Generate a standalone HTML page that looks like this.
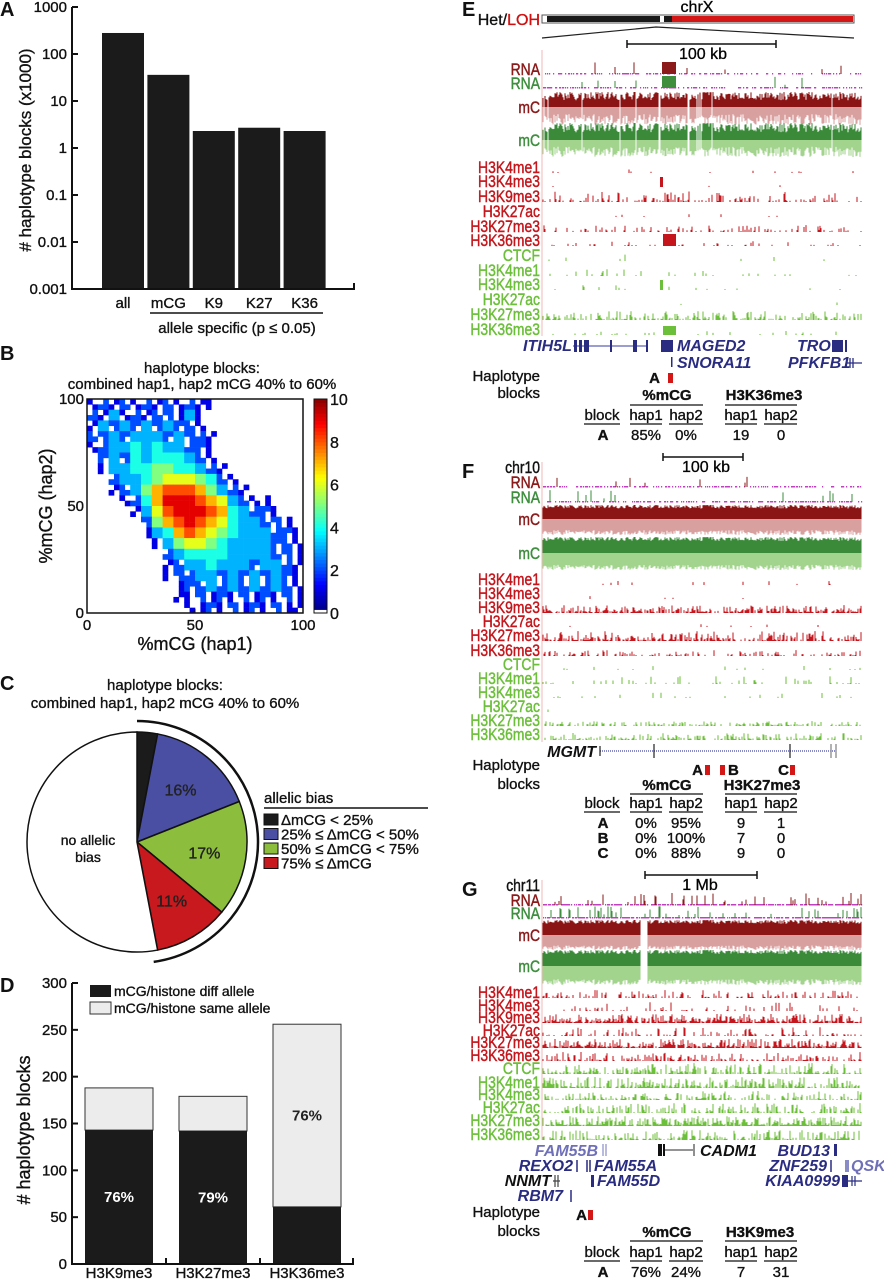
<!DOCTYPE html>
<html><head><meta charset="utf-8">
<style>
html,body{margin:0;padding:0;background:#fff;}
svg{display:block;font-family:"Liberation Sans",Arial,sans-serif;}
svg text{stroke-width:0.35px;}
.lbl{font-size:15px;fill:#111;stroke:#111;}
.tk{font-size:15px;fill:#111;stroke:#111;}
.pl{font-size:20px;font-weight:bold;fill:#111;}
.gn{font-size:16px;font-style:italic;font-weight:bold;fill:#2a2c82;}
.tb{font-size:15px;fill:#111;stroke:#111;}
</style></head>
<body>
<svg id="fig" width="884" height="1280" viewBox="0 0 884 1280" xmlns="http://www.w3.org/2000/svg">
<text class="pl" x="0" y="16">A</text>
<text class="pl" x="0" y="360">B</text>
<text class="pl" x="0" y="690">C</text>
<text class="pl" x="0" y="992">D</text>
<text class="pl" x="462" y="16">E</text>
<text class="pl" x="462" y="478">F</text>
<text class="pl" x="462" y="896">G</text>

<g id="chartA"></g>
<g id="chartB"></g>
<g id="chartC"></g>
<g id="chartD"></g>
<g id="tracks"></g>

<g>
<text x="540" y="25" text-anchor="end" style="font-size:16px;stroke:#111"><tspan fill="#111">Het/</tspan><tspan fill="#d01010" stroke="#d01010">LOH</tspan></text>
<rect x="542" y="15" width="312" height="8" fill="#fff" stroke="#555" stroke-width="1"/>
<rect x="547" y="16" width="113" height="6" fill="#1a1a1a"/>
<rect x="664" y="16" width="8" height="6" fill="#1a1a1a"/>
<rect x="672" y="16" width="181" height="6" fill="#d41616"/>
<text x="697" y="12" text-anchor="middle" style="font-size:16px;stroke:#111">chrX</text>
<polyline points="542,38 656,27 854,38" fill="none" stroke="#222" stroke-width="1.2"/>
<path d="M627,40 v8 M627,44 H776 M776,40 v8" stroke="#111" stroke-width="1.5" fill="none"/>
<text x="703" y="59" text-anchor="middle" style="font-size:16px;stroke:#111">100 kb</text>
</g>
<g>
<text class="gn" x="523" y="351">ITIH5L</text>
<path d="M573,346 H648" stroke="#7a7cc0" stroke-width="1.5"/>
<rect x="574" y="340" width="3" height="12" fill="#2a2c82"/><rect x="579" y="340" width="3" height="12" fill="#2a2c82"/><rect x="584" y="340" width="5" height="12" fill="#2a2c82"/>
<rect x="610" y="340" width="2" height="12" fill="#2a2c82"/><rect x="633" y="340" width="4" height="12" fill="#2a2c82"/><rect x="646" y="340" width="2" height="12" fill="#2a2c82"/>
<rect x="661" y="340" width="12" height="12" fill="#2a2c82"/>
<text class="gn" x="677" y="351">MAGED2</text>
<rect x="671" y="357" width="1.5" height="10" fill="#2a2c82"/>
<text class="gn" x="677" y="368">SNORA11</text>
<text class="gn" x="797" y="351">TRO</text>
<rect x="832" y="340" width="11" height="12" fill="#2a2c82"/><rect x="845" y="340" width="2" height="12" fill="#2a2c82"/>
<text class="gn" x="788" y="368">PFKFB1</text>
<path d="M847,363 H862 M850,358 v10 M853,358 v10" stroke="#2a2c82" stroke-width="1.3"/>
</g>
<g>
<text class="tb" x="540" y="381" text-anchor="end">Haplotype</text>
<text class="tb" x="540" y="398" text-anchor="end">blocks</text>
<text class="tb" x="660" y="383" text-anchor="end" font-weight="bold">A</text>
<rect x="668" y="373" width="5" height="10" fill="#d41616"/>
<text class="tb" x="667" y="400" text-anchor="middle" font-weight="bold">%mCG</text>
<text class="tb" x="764" y="400" text-anchor="middle" font-weight="bold">H3K36me3</text>
<path d="M630,405 H703 M725,405 H797" stroke="#111" stroke-width="1.2"/>
<text class="tb" x="602" y="420" text-anchor="middle">block</text>
<text class="tb" x="646" y="420" text-anchor="middle">hap1</text><text class="tb" x="686" y="420" text-anchor="middle">hap2</text>
<text class="tb" x="741" y="420" text-anchor="middle">hap1</text><text class="tb" x="781" y="420" text-anchor="middle">hap2</text>
<path d="M584,424 H620 M630,424 H662 M669,424 H703 M725,424 H757 M764,424 H797" stroke="#111" stroke-width="1.2"/>
<text class="tb" x="603" y="440" text-anchor="middle" font-weight="bold">A</text>
<text class="tb" x="646" y="440" text-anchor="middle">85%</text><text class="tb" x="686" y="440" text-anchor="middle">0%</text>
<text class="tb" x="741" y="440" text-anchor="middle">19</text><text class="tb" x="781" y="440" text-anchor="middle">0</text>
</g>

<g>
<path d="M663,453 v8 M663,457 H743 M743,453 v8" stroke="#111" stroke-width="1.5" fill="none"/>
<text x="706" y="472" text-anchor="middle" style="font-size:16px;stroke:#111">100 kb</text>
</g>
<g>
<text x="596" y="757" text-anchor="end" style="font-size:16px;font-style:italic;font-weight:bold;fill:#111">MGMT</text>
<path d="M600,751 H836" stroke="#8a8cc8" stroke-width="2" stroke-dasharray="1,1"/>
<path d="M600,746 v10 M654,744 v14 M790,744 v14" stroke="#222" stroke-width="1.2"/>
<path d="M831,744 v14 M836,744 v14" stroke="#999" stroke-width="1.5"/>
</g>
<g>
<text class="tb" x="540" y="770" text-anchor="end">Haplotype</text>
<text class="tb" x="540" y="789" text-anchor="end">blocks</text>
<text class="tb" x="703" y="775" text-anchor="end" font-weight="bold">A</text>
<rect x="705" y="765" width="5" height="10" fill="#d41616"/>
<rect x="720" y="765" width="5" height="10" fill="#d41616"/>
<text class="tb" x="728" y="775" font-weight="bold">B</text>
<text class="tb" x="789" y="775" text-anchor="end" font-weight="bold">C</text>
<rect x="790" y="765" width="5" height="10" fill="#d41616"/>
<text class="tb" x="667" y="790" text-anchor="middle" font-weight="bold">%mCG</text>
<text class="tb" x="762" y="790" text-anchor="middle" font-weight="bold">H3K27me3</text>
<path d="M630,794 H703 M725,794 H797" stroke="#111" stroke-width="1.2"/>
<text class="tb" x="602" y="808" text-anchor="middle">block</text>
<text class="tb" x="646" y="808" text-anchor="middle">hap1</text><text class="tb" x="686" y="808" text-anchor="middle">hap2</text>
<text class="tb" x="741" y="808" text-anchor="middle">hap1</text><text class="tb" x="781" y="808" text-anchor="middle">hap2</text>
<path d="M584,812 H620 M630,812 H662 M669,812 H703 M725,812 H757 M764,812 H797" stroke="#111" stroke-width="1.2"/>
<text class="tb" x="603" y="828" text-anchor="middle" font-weight="bold">A</text><text class="tb" x="646" y="828" text-anchor="middle">0%</text><text class="tb" x="686" y="828" text-anchor="middle">95%</text><text class="tb" x="741" y="828" text-anchor="middle">9</text><text class="tb" x="781" y="828" text-anchor="middle">1</text>
<text class="tb" x="603" y="843" text-anchor="middle" font-weight="bold">B</text><text class="tb" x="646" y="843" text-anchor="middle">0%</text><text class="tb" x="686" y="843" text-anchor="middle">100%</text><text class="tb" x="741" y="843" text-anchor="middle">7</text><text class="tb" x="781" y="843" text-anchor="middle">0</text>
<text class="tb" x="603" y="858" text-anchor="middle" font-weight="bold">C</text><text class="tb" x="646" y="858" text-anchor="middle">0%</text><text class="tb" x="686" y="858" text-anchor="middle">88%</text><text class="tb" x="741" y="858" text-anchor="middle">9</text><text class="tb" x="781" y="858" text-anchor="middle">0</text>
</g>

<g>
<path d="M645,871 v8 M645,875 H757 M757,871 v8" stroke="#111" stroke-width="1.5" fill="none"/>
<text x="700" y="890" text-anchor="middle" style="font-size:16px;stroke:#111">1 Mb</text>
</g>
<g>
<text class="gn" x="598" y="1156" text-anchor="end" style="fill:#6f70b8">FAM55B</text>
<path d="M603,1144 v12 M606,1144 v12" stroke="#8a8cc8" stroke-width="1.2"/>
<text class="gn" x="573" y="1171" text-anchor="end">REXO2</text>
<path d="M577,1160 v12 M587,1160 v12 M590,1160 v12" stroke="#2a2c82" stroke-width="1.5"/>
<text class="gn" x="594" y="1171">FAM55A</text>
<text class="gn" x="551" y="1186" text-anchor="end" style="fill:#111">NNMT</text>
<path d="M555,1175 v12 M558,1175 v12 M553,1181 H560" stroke="#444" stroke-width="1.2"/>
<text class="gn" x="597" y="1186">FAM55D</text>
<rect x="591" y="1175" width="3" height="12" fill="#2a2c82"/>
<text class="gn" x="563" y="1201" text-anchor="end">RBM7</text>
<path d="M571,1190 v12" stroke="#2a2c82" stroke-width="1.5"/>
<rect x="658" y="1144" width="4" height="12" fill="#111"/><rect x="663" y="1144" width="2" height="12" fill="#111"/>
<path d="M665,1150 H693 M694,1144 v12" stroke="#555" stroke-width="1.3"/>
<text class="gn" x="700" y="1156" style="fill:#111">CADM1</text>
<text class="gn" x="830" y="1156" text-anchor="end">BUD13</text>
<rect x="834" y="1144" width="3" height="12" fill="#2a2c82"/>
<text class="gn" x="827" y="1171" text-anchor="end">ZNF259</text>
<path d="M831,1160 v12" stroke="#2a2c82" stroke-width="1.5"/>
<rect x="845" y="1160" width="4" height="12" fill="#8a8cc8"/>
<text class="gn" x="851" y="1171" style="fill:#6f70b8">QSK</text>
<text class="gn" x="840" y="1186" text-anchor="end">KIAA0999</text>
<rect x="842" y="1175" width="6" height="12" fill="#2a2c82"/><path d="M848,1181 H862 M852,1176 v10 M855,1176 v10" stroke="#2a2c82" stroke-width="1.2"/>
</g>
<g>
<text class="tb" x="540" y="1217" text-anchor="end">Haplotype</text>
<text class="tb" x="540" y="1236" text-anchor="end">blocks</text>
<text class="tb" x="587" y="1220" text-anchor="end" font-weight="bold">A</text>
<rect x="588" y="1210" width="5" height="10" fill="#d41616"/>
<text class="tb" x="667" y="1237" text-anchor="middle" font-weight="bold">%mCG</text>
<text class="tb" x="760" y="1237" text-anchor="middle" font-weight="bold">H3K9me3</text>
<path d="M630,1241 H703 M725,1241 H797" stroke="#111" stroke-width="1.2"/>
<text class="tb" x="602" y="1257" text-anchor="middle">block</text>
<text class="tb" x="646" y="1257" text-anchor="middle">hap1</text><text class="tb" x="686" y="1257" text-anchor="middle">hap2</text>
<text class="tb" x="741" y="1257" text-anchor="middle">hap1</text><text class="tb" x="781" y="1257" text-anchor="middle">hap2</text>
<path d="M584,1261 H620 M630,1261 H662 M669,1261 H703 M725,1261 H757 M764,1261 H797" stroke="#111" stroke-width="1.2"/>
<text class="tb" x="603" y="1277" text-anchor="middle" font-weight="bold">A</text>
<text class="tb" x="646" y="1277" text-anchor="middle">76%</text><text class="tb" x="686" y="1277" text-anchor="middle">24%</text>
<text class="tb" x="741" y="1277" text-anchor="middle">7</text><text class="tb" x="781" y="1277" text-anchor="middle">31</text>
</g>
</svg>

<script>
// ---------- Panel A data ----------
const aCategories = ["all", "mCG", "K9", "K27", "K36"];
const aValues = [280, 36, 2.3, 2.7, 2.3];
const aTicks = [1000, 100, 10, 1, 0.1, 0.01, 0.001];
const aTickLabels = ["1000", "100", "10", "1", "0.1", "0.01", "0.001"];
// ---------- Panel B data ----------
const bRows = [
"12121212121100000000",
"21312122131000000000",
"13232323221000000000",
"22323332322100000000",
"12334343322100000000",
"02324344432100000000",
"01334455443210000000",
"00233456665421000000",
"00123578887532100000",
"00012479998763211000",
"00001368999874322100",
"00000257898764332210",
"00000134787654333221",
"00000013566543333221",
"00000002344443333221",
"00000001233433323321",
"00000001223323232321",
"00000000122323232321",
"00000000112121212121",
"00000000011212121211"];
const bTicks = [0, 50, 100];
const bCbarTicks = [0, 2, 4, 6, 8, 10];
// ---------- Panel C data ----------
const cCategories = ["ΔmCG < 25%", "25% ≤ ΔmCG < 50%", "50% ≤ ΔmCG < 75%", "75% ≤ ΔmCG", "no allelic bias"];
const cValues = [3, 16, 17, 11, 53];
const cLabels = ["", "16%", "17%", "11%", ""];
// ---------- Panel D data ----------
const dCategories = ["H3K9me3", "H3K27me3", "H3K36me3"];
const dDiff = [143, 142, 61];
const dSame = [45, 37, 195];
const dPctLabels = ["76%", "79%", "76%"];
const dTicks = [0, 50, 100, 150, 200, 250, 300];

const NS = "http://www.w3.org/2000/svg";
function mk(parent, tag, attrs, name) {
  const el = document.createElementNS(NS, tag);
  for (const k in attrs) el.setAttribute(k, attrs[k]);
  
  
  parent.appendChild(el);
  return el;
}
function txt(parent, x, y, s, size, anchor, name, extra) {
  const t = mk(parent, "text", Object.assign({x: x, y: y, "text-anchor": anchor || "start", style: "font-size:" + size + "px;fill:#111;stroke:#111"}, extra || {}), name);
  t.textContent = s;
  return t;
}

// ---------- Chart A ----------
(function () {
  const g = document.getElementById("chartA");
  const X0 = 72, XR = 354, Ytop = 7, Ybot = 289;
  const yA = v => Ybot - (Math.log10(v) + 3) / 6 * (Ybot - Ytop);
  const bx = i => 102 + i * 45.4;
  aValues.forEach((v, i) => {
    mk(g, "rect", {x: bx(i), y: yA(v), width: 42, height: Ybot - yA(v), fill: "#1b1b1b"}, "bar-" + aCategories[i]);
    txt(g, bx(i) + 21, 308, aCategories[i], 15, "middle", "x-label-" + aCategories[i]);
  });
  mk(g, "path", {d: `M${X0},${Ytop} V${Ybot} H${XR} v-6`, stroke: "#111", "stroke-width": 2, fill: "none"}, "axes-a");
  aTicks.forEach((t, i) => {
    mk(g, "line", {x1: X0, x2: X0 + 6, y1: yA(t), y2: yA(t), stroke: "#111", "stroke-width": 2}, "y-tick");
    txt(g, X0 - 5, yA(t) + 5, aTickLabels[i], 15, "end", "y-tick-label");
  });
  mk(g, "line", {x1: 150, x2: 323, y1: 313, y2: 313, stroke: "#111", "stroke-width": 1.5}, "allele-specific-bracket");
  txt(g, 237, 333, "allele specific (p ≤ 0.05)", 15, "middle", "allele-specific-label");
  txt(g, 0, 0, "# haplotype blocks (x1000)", 17, "middle", "y-axis-title-a", {transform: "translate(31,150) rotate(-90)"});
})();

// ---------- Chart B ----------
(function () {
  const g = document.getElementById("chartB");
  const X0 = 87, X1 = 303, Y0 = 613, Y1 = 399;
  const xB = v => X0 + v / 100 * (X1 - X0);
  const yB = v => Y0 - v / 100 * (Y0 - Y1);
  function jet(v) {
    const t = v / 10;
    const c = x => Math.round(255 * Math.max(0, Math.min(1, x)));
    return `rgb(${c(1.5 - Math.abs(4 * t - 3))},${c(1.5 - Math.abs(4 * t - 2))},${c(1.5 - Math.abs(4 * t - 1))})`;
  }
  txt(g, 202, 373, "haplotype blocks:", 15, "middle", "title-b-line1");
  txt(g, 202, 389, "combined hap1, hap2 mCG 40% to 60%", 15, "middle", "title-b-line2");
  const n = bRows.length;
  const cw = (X1 - X0) / n, ch = (Y0 - Y1) / n;
  bRows.forEach((row, r) => {
    for (let c = 0; c < row.length; c++) {
      const v = +row[c];
      if (v === 0) continue;
      const x = xB(c * 100 / n), y = Y1 + r * ch;
      const subs = v >= 4 ? 4 : v + 1; // low-count bins appear sparse
      const order = [0, 3, 1, 2];
      for (let s = 0; s < subs; s++) {
        const q = order[(s + r + c) % 4];
        mk(g, "rect", {x: x + (q % 2) * cw / 2, y: y + Math.floor(q / 2) * ch / 2, width: cw / 2 + 0.3, height: ch / 2 + 0.3, fill: jet(v)}, "heatmap-cell");
      }
    }
  });
  mk(g, "rect", {x: X0, y: Y1, width: X1 - X0, height: Y0 - Y1, fill: "none", stroke: "#111", "stroke-width": 1.5}, "plot-frame-b");
  bTicks.forEach(t => {
    txt(g, xB(t), Y0 + 17, String(t), 15, "middle", "x-tick-label-b");
    txt(g, X0 - 3, yB(t) + 5, String(t), 15, "end", "y-tick-label-b");
    mk(g, "line", {x1: xB(t), x2: xB(t), y1: Y0, y2: Y0 - 4, stroke: "#111"}, "x-tick-b");
  });
  txt(g, 195, 650, "%mCG (hap1)", 18, "middle", "x-axis-title-b");
  txt(g, 0, 0, "%mCG (hap2)", 18, "middle", "y-axis-title-b", {transform: "translate(52,506) rotate(-90)"});
  const CX = 314, CW = 13;
  for (let i = 0; i < 60; i++) {
    const v = i / 60 * 10;
    mk(g, "rect", {x: CX, y: Y0 - (i + 1) / 60 * (Y0 - Y1), width: CW, height: (Y0 - Y1) / 60 + 0.5, fill: i === 0 ? "#fff" : jet(v)}, "colorbar-step");
  }
  mk(g, "rect", {x: CX, y: Y1, width: CW, height: Y0 - Y1, fill: "none", stroke: "#111"}, "colorbar-frame");
  bCbarTicks.forEach(t => {
    const y = Y0 - t / 10 * (Y0 - Y1);
    txt(g, CX + CW + 3, y + 6, String(t), 16, "start", "colorbar-label");
  });
})();

// ---------- Chart C ----------
(function () {
  const g = document.getElementById("chartC");
  const cx = 137, cy = 842, r = 110;
  const colors = ["#1b1b1b", "#4a4fa3", "#8cbd3c", "#c7191e", "#ffffff"];
  txt(g, 165, 690, "haplotype blocks:", 15, "middle", "title-c-line1");
  txt(g, 165, 708, "combined hap1, hap2 mCG 40% to 60%", 15, "middle", "title-c-line2");
  const total = cValues.reduce((a, b) => a + b, 0);
  const pt = (a, rr) => [cx + rr * Math.sin(a), cy - rr * Math.cos(a)];
  let a0 = 0;
  cValues.forEach((v, i) => {
    const a1 = a0 + v / total * 2 * Math.PI;
    const p0 = pt(a0, r), p1 = pt(a1, r);
    const large = (a1 - a0) > Math.PI ? 1 : 0;
    mk(g, "path", {d: `M${cx},${cy} L${p0[0]},${p0[1]} A${r},${r} 0 ${large} 1 ${p1[0]},${p1[1]} Z`, fill: colors[i], stroke: "#111", "stroke-width": 1.5}, "pie-slice-" + i);
    if (cLabels[i]) {
      const m = pt((a0 + a1) / 2, r * 0.62);
      txt(g, m[0], m[1] + 6, cLabels[i], 16, "middle", "pie-label-" + i, {style: "font-size:16px;fill:#222;stroke:#222"});
    }
    a0 = a1;
  });
  txt(g, 88, 845, "no allelic", 14, "middle", "no-bias-label1");
  txt(g, 88, 862, "bias", 14, "middle", "no-bias-label2");
  const biased = cValues.slice(0, 4).reduce((a, b) => a + b, 0);
  const ae = biased / total * 2 * Math.PI + 0.05;
  const q0 = pt(0, 121), q1 = pt(ae, 121);
  mk(g, "path", {d: `M${q0[0]},${q0[1]} A121,121 0 0 1 ${q1[0]},${q1[1]}`, fill: "none", stroke: "#111", "stroke-width": 2.5}, "biased-bracket-arc");
  txt(g, 264, 803, "allelic bias", 15, "start", "legend-title-c");
  mk(g, "line", {x1: 264, x2: 428, y1: 808, y2: 808, stroke: "#111", "stroke-width": 1.5}, "legend-rule-c");
  for (let i = 0; i < 4; i++) {
    const y = 814 + i * 14.5;
    mk(g, "rect", {x: 264, y: y, width: 14, height: 11, fill: colors[i], stroke: "#111"}, "legend-swatch-" + i);
    txt(g, 281, y + 11, cCategories[i], 15, "start", "legend-entry-" + i);
  }
})();

// ---------- Chart D ----------
(function () {
  const g = document.getElementById("chartD");
  const X0 = 72, XR = 353, Y0 = 1264, Ytop = 983;
  const yD = v => Y0 - v / 300 * (Y0 - Ytop);
  const bx = i => 85 + i * 94;
  dCategories.forEach((c, i) => {
    const tot = dDiff[i] + dSame[i];
    mk(g, "rect", {x: bx(i), y: yD(tot), width: 68, height: yD(dDiff[i]) - yD(tot), fill: "#ececec", stroke: "#333", "stroke-width": 1}, "bar-same-" + c);
    mk(g, "rect", {x: bx(i), y: yD(dDiff[i]), width: 68, height: Y0 - yD(dDiff[i]), fill: "#1b1b1b"}, "bar-diff-" + c);
    txt(g, bx(i) + 34, 1278, c, 15, "middle", "x-label-" + c);
    if (dDiff[i] > dSame[i]) txt(g, bx(i) + 34, yD(dDiff[i] / 2) + 5, dPctLabels[i], 15, "middle", "pct-label-" + c, {style: "font-size:15px;fill:#fff;font-weight:bold"});
    else txt(g, bx(i) + 34, yD(dDiff[i] + dSame[i] / 2) + 5, dPctLabels[i], 15, "middle", "pct-label-" + c, {style: "font-size:15px;fill:#222;font-weight:bold"});
  });
  mk(g, "path", {d: `M${X0},${Ytop} V${Y0} H${XR} v-6 M${X0 + 94},${Y0} v-6 M${X0 + 188},${Y0} v-6`, stroke: "#111", "stroke-width": 2, fill: "none"}, "axes-d");
  dTicks.forEach(t => {
    mk(g, "line", {x1: X0, x2: X0 + 6, y1: yD(t), y2: yD(t), stroke: "#111", "stroke-width": 2}, "y-tick-d");
    txt(g, X0 - 5, yD(t) + 5, String(t), 15, "end", "y-tick-label-d");
  });
  mk(g, "rect", {x: 90, y: 985, width: 21, height: 12, fill: "#1b1b1b"}, "legend-swatch-diff");
  txt(g, 114, 996, "mCG/histone diff allele", 14, "start", "legend-entry-diff");
  mk(g, "rect", {x: 90, y: 1002, width: 21, height: 12, fill: "#ececec", stroke: "#333"}, "legend-swatch-same");
  txt(g, 114, 1013, "mCG/histone same allele", 14, "start", "legend-entry-same");
  txt(g, 0, 0, "# haplotype blocks", 18, "middle", "y-axis-title-d", {transform: "translate(30,1130) rotate(-90)"});
})();

// ---------- Genome browser tracks (decorative texture) ----------
(function () {
  const g = document.getElementById("tracks");
  const XA = 543, XB = 862;
  const hsh = (i, s) => { const v = Math.sin(i * 12.9898 + s * 78.233) * 43758.5453; return v - Math.floor(v); };
  const histLabels = ["H3K4me1", "H3K4me3", "H3K9me3", "H3K27ac", "H3K27me3", "H3K36me3", "CTCF", "H3K4me1", "H3K4me3", "H3K27ac", "H3K27me3", "H3K36me3"];
  const panels = [
    {chr: null, rna: [69, 83], mcR: [92, 107, 125], mcG: [123, 140, 157], hist: [167, 181, 196, 211, 226, 240, 255, 270, 284, 299, 314, 329],
     dens: [.04, .01, .35, .02, .3, .15, .03, .08, .03, .01, .5, .1], amp: [3, 3, 10, 2, 6, 4, 6, 6, 4, 2, 8, 3], top: 50, bot: 336, seed: 1},
    {chr: "chr10", chrY: 473, rna: [482, 497], mcR: [505, 519, 535], mcG: [537, 553, 570], hist: [579, 593, 607, 621, 635, 650, 664, 678, 692, 706, 720, 734],
     dens: [.03, .01, .7, .02, .65, .3, .06, .12, .08, .01, .4, .5], amp: [3, 2, 7, 2, 9, 5, 3, 7, 5, 2, 4, 6], top: 462, bot: 742, seed: 2},
    {chr: "chr11", chrY: 891, rna: [900, 913], mcR: [920, 935, 950], mcG: [950, 966, 985], hist: [992, 1005, 1017, 1030, 1042, 1055, 1068, 1082, 1094, 1107, 1120, 1134],
     dens: [.35, .15, .85, .3, .85, .5, .6, .75, .5, .5, .9, .6], amp: [7, 8, 8, 8, 8, 8, 10, 10, 8, 9, 9, 9], top: 880, bot: 1140, seed: 3}
  ];
  function label(x, y, s, col, name) {
    const t = mk(g, "text", {x: 0, y: 0, "text-anchor": "end", transform: `translate(${x},${y}) scale(0.82,1)`, style: "font-size:17px;stroke-width:0.45px;fill:" + col + ";stroke:" + col}, name);
    t.textContent = s;
  }
  panels.forEach((P, pi) => {
    mk(g, "line", {x1: XA - 1, x2: XA - 1, y1: P.top, y2: P.bot, stroke: "#f0b8b8", "stroke-width": 1}, "track-left-rule");
    if (P.chr) label(540, P.chrY, P.chr, "#111", "chrom-label");
    [0, 1].forEach(k => {
      const yc = P.rna[k];
      const col = k === 0 ? "#8b1a1a" : "#3e8e3e";
      label(540, yc + 6, "RNA", col, "rna-label");
      let d = "", dm = "";
      for (let x = XA; x < XB; x++) {
        const h = hsh(x, P.seed * 10 + k);
        if (h < (pi === 2 ? 0.7 : 0.45)) dm += `M${x},${yc + 4}h1.2v1.5h-1.2z`;
        if (hsh(x, P.seed * 20 + k) < (pi === 2 ? 0.12 : 0.02)) d += `M${x},${yc + 5}v-${3 + 9 * hsh(x, 7)}`;
      }
      mk(g, "path", {d: dm, fill: "#c040c0"}, "rna-baseline");
      mk(g, "path", {d: d, stroke: col, "stroke-width": 1, fill: "none"}, "rna-signal");
      if (pi === 0) mk(g, "rect", {x: 662, y: yc - 7, width: 14, height: 12, fill: col}, "rna-peak-block");
    });
    [["mcR", "#8b1414", "#d9a0a0", "#8b1a1a"], ["mcG", "#3a8a3a", "#a3d48e", "#3e8e3e"]].forEach(([key, dark, light, lc]) => {
      const [t0, mid, b0] = P[key];
      label(540, mid + 6, "mC", lc, "mc-label");
      let dd = "", dl = "";
      for (let x = XA; x < XB; x++) {
        const gap = (pi === 0 && hsh(x, 33) < 0.06) || (pi === 2 && x > 640 && x < 648);
        if (gap) continue;
        const up = (mid - t0) * (pi === 0 ? 0.45 + 0.55 * hsh(x, 5) : 0.75 + 0.25 * hsh(x, 5));
        const dn = (b0 - mid) * (pi === 0 ? 0.4 + 0.6 * hsh(x, 6) : 0.7 + 0.3 * hsh(x, 6));
        dd += `M${x},${mid}v-${up.toFixed(1)}`;
        dl += `M${x},${mid}v${dn.toFixed(1)}`;
      }
      mk(g, "path", {d: dd, stroke: dark, "stroke-width": 1.05, fill: "none"}, "mc-upper-strand");
      mk(g, "path", {d: dl, stroke: light, "stroke-width": 1.05, fill: "none"}, "mc-lower-strand");
    });
    P.hist.forEach((yc, k) => {
      const red = k < 6;
      const col = red ? "#c4161c" : "#6cbf3a";
      label(540, yc + 6, histLabels[k], col, "track-label-" + histLabels[k].toLowerCase());
      const base = yc + 6;
      let d = "";
      for (let x = XA; x < XB; x++) {
        if (hsh(x, P.seed * 100 + k) < P.dens[k]) {
          const h = 1 + P.amp[k] * Math.pow(hsh(x, P.seed * 200 + k), 2.2);
          d += `M${x},${base}v-${h.toFixed(1)}`;
        }
      }
      mk(g, "path", {d: d, stroke: col, "stroke-width": 1, fill: "none"}, "histone-signal");
      if (pi === 0 && k === 5) mk(g, "rect", {x: 663, y: base - 12, width: 13, height: 12, fill: col}, "h3k36me3-peak");
      if (pi === 0 && (k === 1 || k === 8)) mk(g, "rect", {x: 660, y: base - 10, width: 3, height: 10, fill: col}, "h3k4me3-peak");
      if (pi === 0 && k === 11) mk(g, "rect", {x: 663, y: base - 9, width: 13, height: 9, fill: col}, "h3k36me3-peak-green");
    });
  });
})();
</script>
</body></html>
